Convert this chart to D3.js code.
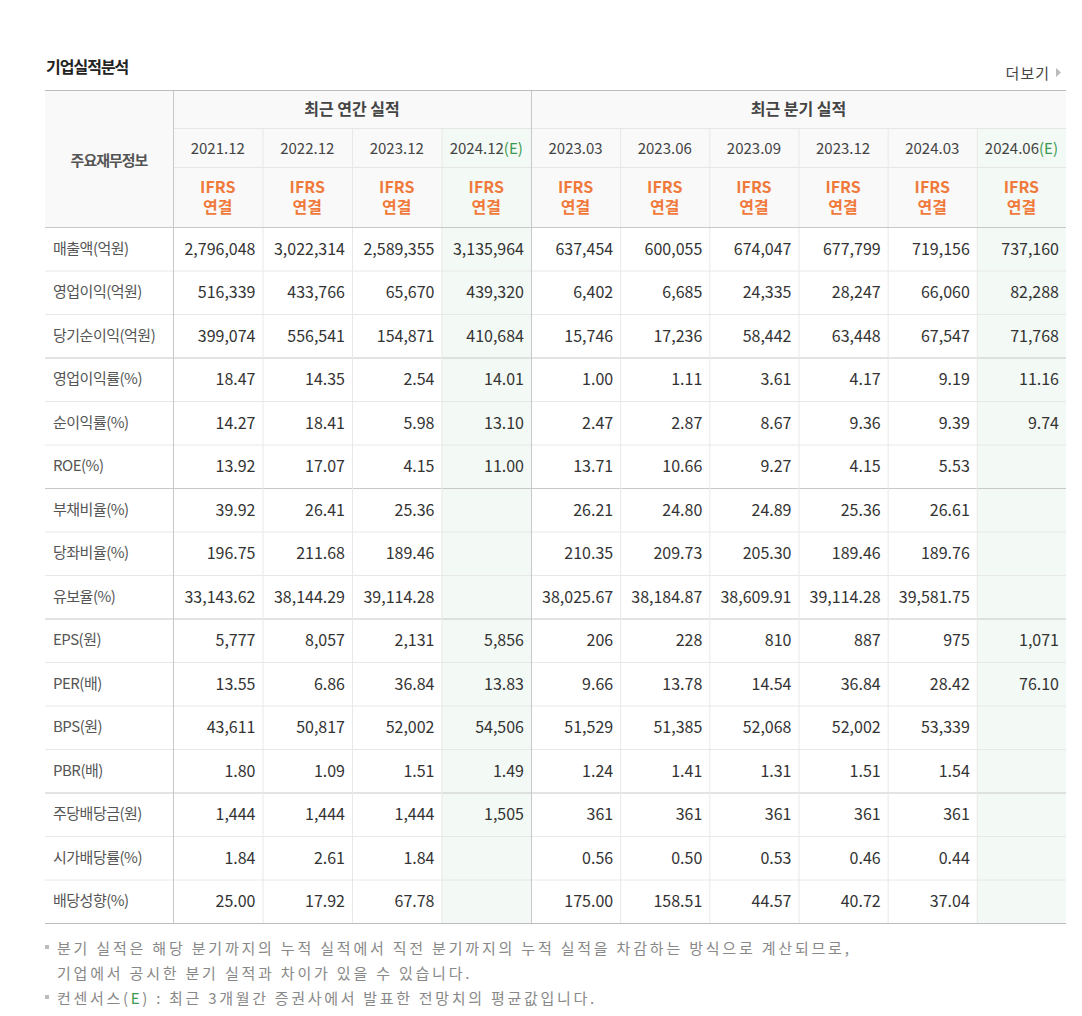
<!DOCTYPE html>
<html><head><meta charset="utf-8">
<script src="https://cdn.jsdelivr.net/npm/d3@7"></script>
<style>body{margin:0;background:#fff}</style>
</head><body><svg id="c" width="1082" height="1016"></svg>
<script>
const annualPeriods=["2021.12","2022.12","2023.12","2024.12"];
const quarterPeriods=["2023.03","2023.06","2023.09","2023.12","2024.03","2024.06"];
const estimateFlags=[false,false,false,true,false,false,false,false,false,true];
const rowLabels=["매출액(억원)","영업이익(억원)","당기순이익(억원)","영업이익률(%)","순이익률(%)","ROE(%)","부채비율(%)","당좌비율(%)","유보율(%)","EPS(원)","PER(배)","BPS(원)","PBR(배)","주당배당금(원)","시가배당률(%)","배당성향(%)"];
const values=[
["2,796,048","3,022,314","2,589,355","3,135,964","637,454","600,055","674,047","677,799","719,156","737,160"],
["516,339","433,766","65,670","439,320","6,402","6,685","24,335","28,247","66,060","82,288"],
["399,074","556,541","154,871","410,684","15,746","17,236","58,442","63,448","67,547","71,768"],
["18.47","14.35","2.54","14.01","1.00","1.11","3.61","4.17","9.19","11.16"],
["14.27","18.41","5.98","13.10","2.47","2.87","8.67","9.36","9.39","9.74"],
["13.92","17.07","4.15","11.00","13.71","10.66","9.27","4.15","5.53",""],
["39.92","26.41","25.36","","26.21","24.80","24.89","25.36","26.61",""],
["196.75","211.68","189.46","","210.35","209.73","205.30","189.46","189.76",""],
["33,143.62","38,144.29","39,114.28","","38,025.67","38,184.87","38,609.91","39,114.28","39,581.75",""],
["5,777","8,057","2,131","5,856","206","228","810","887","975","1,071"],
["13.55","6.86","36.84","13.83","9.66","13.78","14.54","36.84","28.42","76.10"],
["43,611","50,817","52,002","54,506","51,529","51,385","52,068","52,002","53,339",""],
["1.80","1.09","1.51","1.49","1.24","1.41","1.31","1.51","1.54",""],
["1,444","1,444","1,444","1,505","361","361","361","361","361",""],
["1.84","2.61","1.84","","0.56","0.50","0.53","0.46","0.44",""],
["25.00","17.92","67.78","","175.00","158.51","44.57","40.72","37.04",""]];
const groupBreaks=[3,6,9,13];
const groupTitles=["최근 연간 실적","최근 분기 실적"];
const notes=[["분기 실적은 해당 분기까지의 누적 실적에서 직전 분기까지의 누적 실적을 차감하는 방식으로 계산되므로,",true],["기업에서 공시한 분기 실적과 차이가 있을 수 있습니다.",false]];

const svg=d3.select("#c");
const F="'Noto Sans CJK KR','Noto Sans',sans-serif";
const L=45,R=1066,LC=173,MID=531;
const xA=d3.scaleBand().domain(annualPeriods).range([LC,MID]);
const xQ=d3.scaleBand().domain(quarterPeriods).range([MID,R]);
const cols=annualPeriods.map((p,i)=>({p,x:xA(p),w:xA.bandwidth(),e:estimateFlags[i]}))
 .concat(quarterPeriods.map((p,i)=>({p,x:xQ(p),w:xQ.bandwidth(),e:estimateFlags[4+i]})));
const yTop=90,yG=128,yD=167,yH=227,yB=923;
const y=d3.scaleBand().domain(d3.range(rowLabels.length)).range([yH,yB]);

svg.append("text").attr("x",46).attr("y",73).attr("font-family",F).attr("font-size",16).attr("font-weight",700).attr("fill","#222").attr("letter-spacing",-1).text("기업실적분석");
svg.append("text").attr("x",1050).attr("y",79).attr("text-anchor","end").attr("font-family",F).attr("font-size",15).attr("fill","#444").attr("letter-spacing",1).text("더보기");
svg.append("path").attr("d","M1056,68 L1061,72.5 L1056,77 Z").attr("fill","#bbb");

svg.append("rect").attr("x",L).attr("y",yTop).attr("width",R-L).attr("height",yH-yTop).attr("fill","#f9f9f9");
cols.filter(c=>c.e).forEach(c=>{
  svg.append("rect").attr("x",c.x).attr("y",yG).attr("width",c.w).attr("height",yB-yG).attr("fill","#f3f9f4");
});
const g=svg.append("g");
const hl=(yy,c,x1=L,x2=R)=>g.append("line").attr("x1",x1).attr("x2",x2).attr("y1",yy+.5).attr("y2",yy+.5).attr("stroke",c);
const vl=(xx,c,y1,y2)=>g.append("line").attr("x1",xx+.5).attr("x2",xx+.5).attr("y1",y1).attr("y2",y2).attr("stroke",c);
hl(yG,"#e6e6e6",LC); hl(yD,"#e6e6e6",LC);
rowLabels.forEach((r,i)=>{ if(i>0) hl(y(i),groupBreaks.includes(i)?"#c8c8c8":"#e8e8e8"); });
cols.forEach((c,i)=>{ if(i>0 && c.x!==MID) vl(c.x,"#e8e8e8",yG,yB); });
vl(LC,"#c8c8c8",yTop,yB); vl(MID,"#c8c8c8",yTop,yB);
hl(yTop,"#bdbdbd"); hl(yH,"#c8c8c8"); hl(yB,"#bdbdbd");

const txt=(x,yy,s,o={})=>svg.append("text").attr("x",x).attr("y",yy).attr("text-anchor",o.a||"middle").attr("font-family",F).attr("font-size",o.s||14).attr("font-weight",o.w||400).attr("fill",o.c||"#333").attr("letter-spacing",o.ls||0).text(s);
txt((L+LC)/2,166,"주요재무정보",{w:700,c:"#555",s:15,ls:-1});
txt((LC+MID)/2,115,groupTitles[0],{w:700,c:"#444",s:16});
txt((MID+R)/2,115,groupTitles[1],{w:700,c:"#444",s:16});
cols.forEach(c=>{
  const t=svg.append("text").attr("x",c.x+c.w/2).attr("y",154).attr("text-anchor","middle").attr("font-family",F).attr("font-size",15).attr("fill","#444");
  t.append("tspan").text(c.p);
  if(c.e) t.append("tspan").attr("fill","#3a9a50").text("(E)");
  txt(c.x+c.w/2,193,"IFRS",{w:700,c:"#f07a3c",s:16});
  txt(c.x+c.w/2,213,"연결",{w:700,c:"#f07a3c",s:16});
});
rowLabels.forEach((r,i)=>{
  const cy=y(i)+y.bandwidth()/2+5;
  txt(53,cy,r,{a:"start",c:"#555",s:15,ls:-0.5});
  values[i].forEach((v,j)=>{ const c=cols[j]; txt(c.x+c.w-7,cy+1,v,{a:"end",c:"#333",s:16}); });
});
const ny=[954,979,1004];
ny.forEach((yy,i)=>{ if(i!==1) svg.append("rect").attr("x",45).attr("y",yy-9).attr("width",4).attr("height",4).attr("fill","#bbb"); });
txt(57,ny[0],notes[0][0],{a:"start",c:"#888",s:15,ls:2.8});
txt(57,ny[1],notes[1][0],{a:"start",c:"#888",s:15,ls:2.8});
const t3=svg.append("text").attr("x",57).attr("y",ny[2]).attr("font-family",F).attr("font-size",15).attr("fill","#888").attr("letter-spacing",2.7);
t3.append("tspan").text("컨센서스(");t3.append("tspan").attr("fill","#3a9a50").text("E");t3.append("tspan").text(") : 최근 3개월간 증권사에서 발표한 전망치의 평균값입니다.");
</script></body></html>
